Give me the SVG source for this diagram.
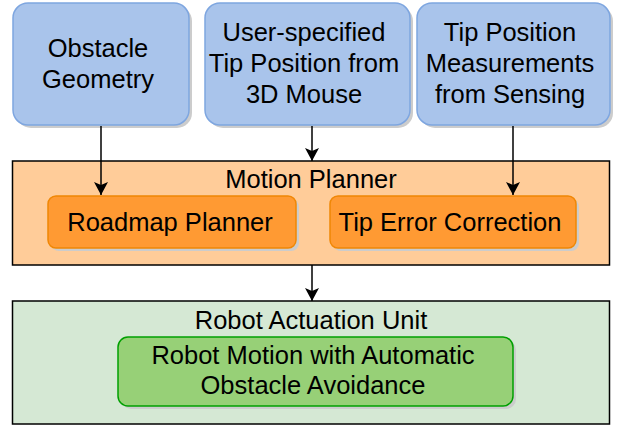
<svg xmlns="http://www.w3.org/2000/svg" width="619" height="426" viewBox="0 0 619 426">
<defs>
<style>
text{font-family:"Liberation Sans",Arial,Helvetica,sans-serif;font-size:25.5px;fill:#000;text-anchor:middle}
.shadow{fill:#cccccc;stroke:none}
.blue{fill:#A9C4EB;stroke:#7EA6E0;stroke-width:1.5}
.orangeOuter{fill:#FFCC99;stroke:#000;stroke-width:1.5}
.orangeInner{fill:#FF9A33;stroke:#F08705;stroke-width:1.5}
.greenOuter{fill:#D5E8D4;stroke:#000;stroke-width:1.5}
.greenInner{fill:#97D077;stroke:#00A000;stroke-width:1.5}
.conn{stroke:#000;stroke-width:1.5;fill:none}
</style>
<marker id="arr" markerUnits="userSpaceOnUse" markerWidth="16" markerHeight="16" refX="14" refY="7" orient="auto" viewBox="0 0 16 14">
<path d="M14,7 L1,0 L4,7 L1,14 Z" fill="#000"/>
</marker>
</defs>
<rect width="619" height="426" fill="#fff"/>

<g id="obstacle-geometry">
<rect class="shadow" x="16" y="6" width="176" height="122" rx="15"/>
<rect class="blue" x="13" y="3" width="176" height="122" rx="15"/>
<text x="98" y="57">Obstacle</text>
<text x="98" y="88">Geometry</text>
</g>

<g id="user-tip-position">
<rect class="shadow" x="208" y="6" width="205" height="122" rx="15"/>
<rect class="blue" x="205" y="3" width="205" height="122" rx="15"/>
<text x="304" y="41">User-specified</text>
<text x="304" y="72">Tip Position from</text>
<text x="304" y="103">3D Mouse</text>
</g>

<g id="tip-measurements">
<rect class="shadow" x="420" y="6" width="193" height="122" rx="15"/>
<rect class="blue" x="417" y="3" width="193" height="122" rx="15"/>
<text x="510" y="41">Tip Position</text>
<text x="510" y="72">Measurements</text>
<text x="510" y="103">from Sensing</text>
</g>

<g id="motion-planner">
<rect class="orangeOuter" x="12.5" y="161" width="597" height="104"/>
<text x="311" y="188">Motion Planner</text>
</g>

<g id="roadmap-planner">
<rect class="shadow" x="51" y="199" width="248" height="52" rx="8"/>
<rect class="orangeInner" x="48" y="196" width="248" height="52" rx="8"/>
<text x="170" y="231">Roadmap Planner</text>
</g>

<g id="tip-error-correction">
<rect class="shadow" x="333" y="199" width="246" height="52" rx="8"/>
<rect class="orangeInner" x="330" y="196" width="246" height="52" rx="8"/>
<text x="450" y="231">Tip Error Correction</text>
</g>

<g id="robot-actuation-unit">
<rect class="greenOuter" x="12.5" y="301" width="597" height="123"/>
<text x="311" y="329">Robot Actuation Unit</text>
</g>

<g id="robot-motion">
<rect class="shadow" x="121" y="340" width="395" height="69" rx="10"/>
<rect class="greenInner" x="118" y="337" width="395" height="69" rx="10"/>
<text x="313" y="364">Robot Motion with Automatic</text>
<text x="313" y="394">Obstacle Avoidance</text>
</g>

<g id="connectors">
<path class="conn" d="M101,126 L101,195" marker-end="url(#arr)"/>
<path class="conn" d="M312,126 L312,161" marker-end="url(#arr)"/>
<path class="conn" d="M513,126 L513,195" marker-end="url(#arr)"/>
<path class="conn" d="M312,265 L312,301" marker-end="url(#arr)"/>
</g>
</svg>
